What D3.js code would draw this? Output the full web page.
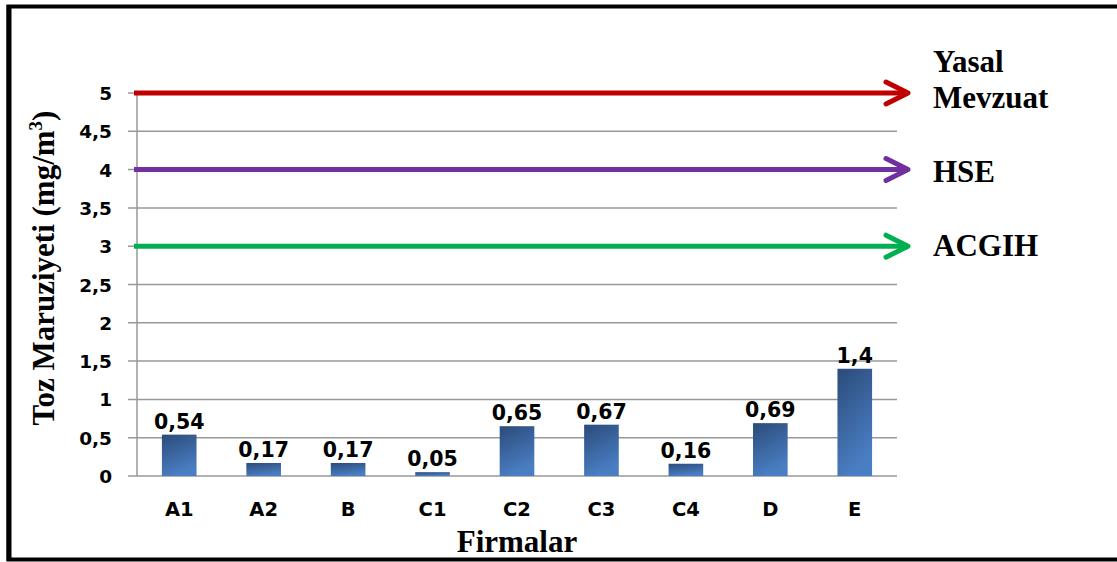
<!DOCTYPE html>
<html><head><meta charset="utf-8">
<script src="https://cdn.jsdelivr.net/npm/d3@7"></script>
<style>body{margin:0;background:#fff}svg{display:block}</style>
</head><body><svg id="c" width="1117" height="562"></svg>
<script>
const categories = ["A1","A2","B","C1","C2","C3","C4","D","E"];
const values = [0.54,0.17,0.17,0.05,0.65,0.67,0.16,0.69,1.4];
const valueLabels = ["0,54","0,17","0,17","0,05","0,65","0,67","0,16","0,69","1,4"];
const yTicks = [0,0.5,1,1.5,2,2.5,3,3.5,4,4.5,5];
const limitNames = [["Yasal","Mevzuat"],["HSE"],["ACGIH"]];
const limitValues = [5,4,3];
const limitColors = ["#c00000","#7030a0","#00b050"];

(function(){
const svg = d3.select("#c");
const pL = 137, pR = 897, pT = 93, pB = 476;
const x = d3.scaleBand().domain(categories).range([pL,pR]).paddingInner(0.59).paddingOuter(0.295);
const y = d3.scaleLinear().domain([0,5]).range([pB,pT]);
const sans = "'DejaVu Sans', sans-serif";
const serif = "'Liberation Serif','Times New Roman',serif";

// frame
svg.append("rect").attr("x",8.5).attr("y",6.5).attr("width",1120).attr("height",553).attr("fill","none").attr("stroke","#000").attr("stroke-width",4);
svg.append("line").attr("x1",9).attr("x2",9).attr("y1",5).attr("y2",561).attr("stroke","#000").attr("stroke-width",5);

const defs = svg.append("defs");
const g = defs.append("linearGradient").attr("id","bg").attr("x1",0).attr("y1",0).attr("x2",0.35).attr("y2",1);
g.append("stop").attr("offset","0%").attr("stop-color","#2b4b7a");
g.append("stop").attr("offset","100%").attr("stop-color","#4a7ec3");

// grid
svg.append("g").selectAll("line").data(yTicks).join("line")
  .attr("x1",pL-9).attr("x2",pR).attr("y1",d=>y(d)).attr("y2",d=>y(d))
  .attr("stroke","#989898").attr("stroke-width",1.5);
svg.append("line").attr("x1",pL).attr("x2",pL).attr("y1",pT).attr("y2",pB).attr("stroke","#989898").attr("stroke-width",1.5);

const fmt = d=> String(d).replace(".",",");
svg.append("g").selectAll("text").data(yTicks).join("text")
  .attr("x",112).attr("y",d=>y(d)+7).attr("text-anchor","end")
  .attr("font-family",sans).attr("font-weight","bold").attr("font-size",18.5).attr("fill","#000")
  .text(fmt);

// bars
svg.append("g").selectAll("rect").data(values).join("rect")
  .attr("x",(d,i)=>x(categories[i])).attr("width",x.bandwidth())
  .attr("y",d=>y(d)).attr("height",d=>pB-y(d)).attr("fill","url(#bg)");

svg.append("g").selectAll("text").data(values).join("text")
  .attr("x",(d,i)=>x(categories[i])+x.bandwidth()/2).attr("y",d=>y(d)-6)
  .attr("text-anchor","middle").attr("font-family",sans).attr("font-weight","bold").attr("font-size",20.5).attr("fill","#000")
  .text((d,i)=>valueLabels[i]);

svg.append("g").selectAll("text").data(categories).join("text")
  .attr("x",d=>x(d)+x.bandwidth()/2).attr("y",516)
  .attr("text-anchor","middle").attr("font-family",sans).attr("font-weight","bold").attr("font-size",19.5).attr("fill","#000")
  .text(d=>d);

// limit lines with arrows
limitValues.forEach((v,i)=>{
  const yy = y(v), x0 = 134, x1 = 908;
  svg.append("line").attr("x1",x0).attr("x2",x1-2).attr("y1",yy).attr("y2",yy)
    .attr("stroke",limitColors[i]).attr("stroke-width",5);
  svg.append("path").attr("d",`M${x1-22},${yy-11}L${x1},${yy}L${x1-22},${yy+11}`)
    .attr("fill","none").attr("stroke",limitColors[i]).attr("stroke-width",5)
    .attr("stroke-linecap","round").attr("stroke-linejoin","round");
});

const lbl = svg.append("g").attr("font-family",serif).attr("font-weight","bold").attr("font-size",31).attr("fill","#000");
lbl.append("text").attr("x",933).attr("y",72).text(limitNames[0][0]);
lbl.append("text").attr("x",933).attr("y",108).text(limitNames[0][1]);
lbl.append("text").attr("x",933).attr("y",182).text(limitNames[1][0]);
lbl.append("text").attr("x",933).attr("y",256).text(limitNames[2][0]);

svg.append("text").attr("x",517).attr("y",552).attr("text-anchor","middle")
  .attr("font-family",serif).attr("font-weight","bold").attr("font-size",31).text("Firmalar");
const yt = svg.append("text").attr("transform","translate(54,268) rotate(-90)").attr("text-anchor","middle")
  .attr("font-family",serif).attr("font-weight","bold").attr("font-size",31);
yt.append("tspan").text("Toz Maruziyeti (mg/m");
yt.append("tspan").attr("font-size",19).attr("dy",-12).text("3");
yt.append("tspan").attr("dy",12).text(")");
})();
</script></body></html>
